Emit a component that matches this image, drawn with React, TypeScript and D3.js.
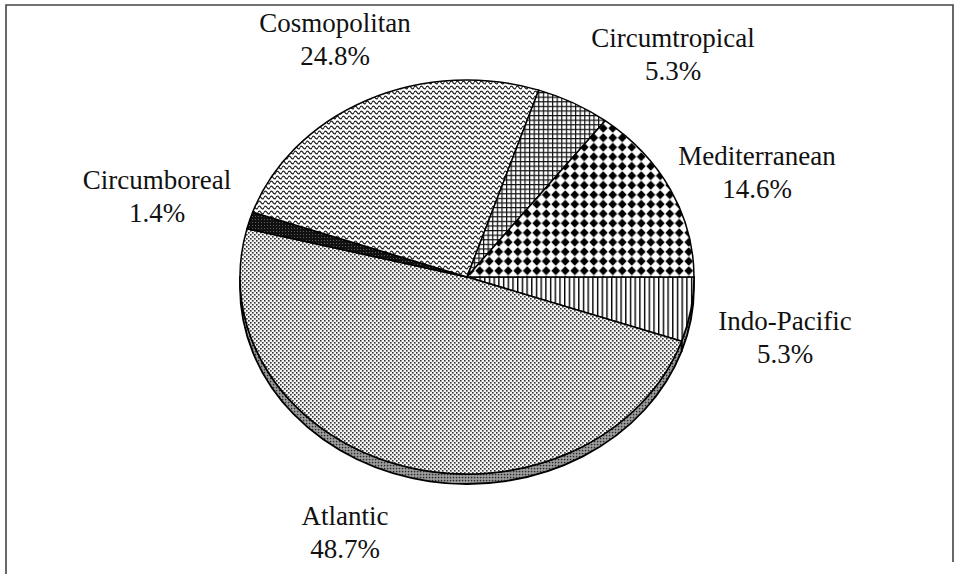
import React from "react";
import * as d3 from "d3";

const categories = ["Indo-Pacific", "Atlantic", "Circumboreal", "Cosmopolitan", "Circumtropical", "Mediterranean"];
const values = [5.3, 48.7, 1.4, 24.8, 5.3, 14.6];
const valueLabels = ["5.3%", "48.7%", "1.4%", "24.8%", "5.3%", "14.6%"];
const fills = ["url(#pVert)", "url(#pDots)", "url(#pDark)", "url(#pWave)", "url(#pGrid)", "url(#pDiam)"];
const wallFills = ["url(#pWall)", "url(#pWall)", "url(#pDark)", "url(#pWall)", "url(#pWall)", "url(#pWall)"];
// label layout (text placement, not data)
const labelPos: [number, number][] = [
  [785, 321],
  [345, 516],
  [157, 180],
  [335, 23],
  [673, 38],
  [757, 156],
];

const W = 955;
const H = 574;
const cx = 467;
const cy = 277;
const rx = 227;
const ry = 197;
const depth = 10;
const font = "'Times New Roman', 'Liberation Serif', 'DejaVu Serif', serif";

function pt(a: number, dy = 0): [number, number] {
  return [cx + rx * Math.sin(a), cy - ry * Math.cos(a) + dy];
}

export default function App() {
  const pie = d3
    .pie<number>()
    .sort(null)
    .value((d) => d)
    .startAngle(Math.PI / 2)
    .endAngle(Math.PI / 2 + 2 * Math.PI);
  const arcs = pie(values);

  const topPath = (a0: number, a1: number) => {
    const [x0, y0] = pt(a0);
    const [x1, y1] = pt(a1);
    const large = a1 - a0 > Math.PI ? 1 : 0;
    return `M${cx},${cy}L${x0},${y0}A${rx},${ry} 0 ${large} 1 ${x1},${y1}Z`;
  };
  const wallPath = (a0: number, a1: number) => {
    const lo = Math.max(a0, Math.PI / 2);
    const hi = Math.min(a1, (3 * Math.PI) / 2);
    if (hi <= lo) return null;
    const [x0, y0] = pt(lo);
    const [x1, y1] = pt(hi);
    const [x2, y2] = pt(hi, depth);
    const [x3, y3] = pt(lo, depth);
    return `M${x0},${y0}A${rx},${ry} 0 0 1 ${x1},${y1}L${x2},${y2}A${rx},${ry} 0 0 0 ${x3},${y3}Z`;
  };

  return (
    <svg
      width={W}
      height={H}
      style={{ position: "absolute", left: 0, top: 0, background: "#fff" }}
    >
      <defs>
        <pattern id="pVert" patternUnits="userSpaceOnUse" width={4.7} height={4}>
          <rect width={4.7} height={4} fill="#fff" />
          <rect x={0} width={1.4} height={4} fill="#000" />
        </pattern>
        <pattern id="pDots" patternUnits="userSpaceOnUse" width={4} height={4}>
          <rect width={4} height={4} fill="#f4f4f4" />
          <rect x={0} y={0} width={1.6} height={1.6} fill="#333" />
          <rect x={2} y={2} width={1.6} height={1.6} fill="#333" />
        </pattern>
        <pattern id="pDark" patternUnits="userSpaceOnUse" width={3} height={3}>
          <rect width={3} height={3} fill="#111" />
          <rect x={0} y={0} width={0.8} height={0.8} fill="#888" />
        </pattern>
        <pattern id="pWave" patternUnits="userSpaceOnUse" width={6} height={5}>
          <rect width={6} height={5} fill="#fff" />
          <path d="M0,2.5 C1,0.6 2,0.6 3,2.5 C4,4.4 5,4.4 6,2.5" fill="none" stroke="#222" strokeWidth={1.3} />
        </pattern>
        <pattern id="pGrid" patternUnits="userSpaceOnUse" width={4.6} height={4.6}>
          <rect width={4.6} height={4.6} fill="#fff" />
          <rect x={0} y={0} width={1.2} height={4.6} fill="#111" />
          <rect x={0} y={0} width={4.6} height={1.2} fill="#111" />
        </pattern>
        <pattern id="pDiam" patternUnits="userSpaceOnUse" width={9.5} height={9.5}>
          <rect width={9.5} height={9.5} fill="#fff" />
          <polygon points="4.75,0.3 9.2,4.75 4.75,9.2 0.3,4.75" fill="#000" />
        </pattern>
        <pattern id="pWall" patternUnits="userSpaceOnUse" width={3} height={3}>
          <rect width={3} height={3} fill="#8a8a8a" />
          <rect x={0} y={0} width={1.2} height={1.2} fill="#2a2a2a" />
          <rect x={1.5} y={1.5} width={1} height={1} fill="#d0d0d0" />
        </pattern>
      </defs>

      {/* frame */}
      <path d={`M6,${H}L6,5L953,5L953,562`} fill="none" stroke="#444" strokeWidth={1.6} />

      {/* side walls */}
      <g>
        {arcs.map((a, i) => {
          const d = wallPath(a.startAngle, a.endAngle);
          return d ? (
            <path key={"w" + i} d={d} fill={wallFills[i]} stroke="#000" strokeWidth={1.8} strokeLinejoin="round" />
          ) : null;
        })}
      </g>

      {/* top faces */}
      <g>
        {arcs.map((a, i) => (
          <path key={"t" + i} d={topPath(a.startAngle, a.endAngle)} fill={fills[i]} stroke="#000" strokeWidth={1.5} strokeLinejoin="round" />
        ))}
      </g>

      {/* labels */}
      <g style={{ fontFamily: font, fontSize: "27px" }} fill="#111" textAnchor="middle">
        {categories.map((c, i) => (
          <g key={"l" + i}>
            <text x={labelPos[i][0]} y={labelPos[i][1]} dominantBaseline="central">
              {c}
            </text>
            <text x={labelPos[i][0]} y={labelPos[i][1] + 33} dominantBaseline="central">
              {valueLabels[i]}
            </text>
          </g>
        ))}
      </g>
    </svg>
  );
}
